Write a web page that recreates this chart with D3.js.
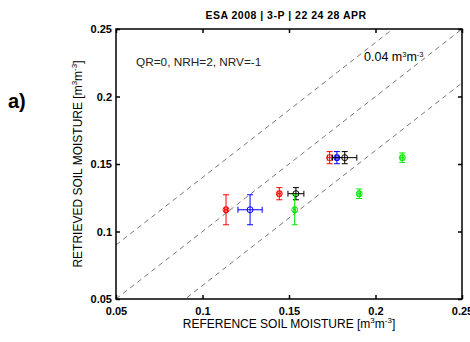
<!DOCTYPE html>
<html>
<head>
<meta charset="utf-8">
<script src="https://cdn.jsdelivr.net/npm/d3@7"></script>
<style>
  body { margin: 0; background: #fff; }
  text { font-family: "Liberation Sans", Arial, sans-serif; }
</style>
</head>
<body>
<svg id="chart" width="470" height="342"></svg>
<script>
// series: x, y, xerr, yerr
const redPts = [
  { x: 0.1136, y: 0.1161, ex: 0.0008, ey: 0.0111 },
  { x: 0.1444, y: 0.128, ex: 0.0009, ey: 0.0045 },
  { x: 0.1735, y: 0.1547, ex: 0.0012, ey: 0.0045 }
];
const bluePts = [
  { x: 0.1275, y: 0.1161, ex: 0.007, ey: 0.0111 },
  { x: 0.1777, y: 0.1547, ex: 0.0008, ey: 0.0045 }
];
const blackPts = [
  { x: 0.154, y: 0.128, ex: 0.0046, ey: 0.0045 },
  { x: 0.1822, y: 0.1547, ex: 0.007, ey: 0.0045 }
];
const greenPts = [
  { x: 0.1533, y: 0.1161, ex: 0.0006, ey: 0.0111 },
  { x: 0.1906, y: 0.128, ex: 0.0008, ey: 0.0035 },
  { x: 0.2155, y: 0.1547, ex: 0.0009, ey: 0.0035 }
];
const offsets = [0.04, 0, -0.04];
const ticks = [0.05, 0.1, 0.15, 0.2, 0.25];
const tickLabels = ["0.05", "0.1", "0.15", "0.2", "0.25"];

const svg = d3.select("#chart");
const mLeft = 116, mRight = 462, mTop = 29, mBottom = 299;

const x = d3.scaleLinear().domain([0.05, 0.25]).range([mLeft, mRight]);
const y = d3.scaleLinear().domain([0.05, 0.25]).range([mBottom, mTop]);

// dashed 1:1 and +/- 0.04 lines
svg.append("clipPath").attr("id", "clip")
  .append("rect").attr("x", mLeft).attr("y", mTop)
  .attr("width", mRight - mLeft).attr("height", mBottom - mTop);

const plot = svg.append("g").attr("clip-path", "url(#clip)");
offsets.forEach(o => {
  plot.append("line")
    .attr("x1", x(0.05)).attr("y1", y(0.05 + o))
    .attr("x2", x(0.25)).attr("y2", y(0.25 + o))
    .attr("stroke", "#555").attr("stroke-width", 0.8)
    .attr("stroke-dasharray", "5,4");
});

function drawSeries(data, color) {
  const g = plot.append("g");
  data.forEach(d => {
    const cap = 3;
    // vertical error
    g.append("line").attr("x1", x(d.x)).attr("x2", x(d.x))
      .attr("y1", y(d.y - d.ey)).attr("y2", y(d.y + d.ey))
      .attr("stroke", color).attr("stroke-width", 1);
    [d.y - d.ey, d.y + d.ey].forEach(v => {
      g.append("line").attr("x1", x(d.x) - cap).attr("x2", x(d.x) + cap)
        .attr("y1", y(v)).attr("y2", y(v))
        .attr("stroke", color).attr("stroke-width", 1);
    });
    // horizontal error
    g.append("line").attr("y1", y(d.y)).attr("y2", y(d.y))
      .attr("x1", x(d.x - d.ex)).attr("x2", x(d.x + d.ex))
      .attr("stroke", color).attr("stroke-width", 1);
    [d.x - d.ex, d.x + d.ex].forEach(v => {
      g.append("line").attr("y1", y(d.y) - cap).attr("y2", y(d.y) + cap)
        .attr("x1", x(v)).attr("x2", x(v))
        .attr("stroke", color).attr("stroke-width", 1);
    });
    g.append("circle").attr("cx", x(d.x)).attr("cy", y(d.y)).attr("r", 3)
      .attr("fill", "none").attr("stroke", color).attr("stroke-width", 1);
  });
}
drawSeries(redPts, "#ff0000");
drawSeries(bluePts, "#0000ff");
drawSeries(blackPts, "#000000");
drawSeries(greenPts, "#00e600");

// axes box with inward ticks
svg.append("rect").attr("x", mLeft).attr("y", mTop)
  .attr("width", mRight - mLeft).attr("height", mBottom - mTop)
  .attr("fill", "none").attr("stroke", "#000").attr("stroke-width", 1.5);

const fmt = (d, i) => tickLabels[i];
svg.append("g").attr("transform", `translate(0,${mBottom})`)
  .call(d3.axisBottom(x).tickValues(ticks).tickSize(-4).tickPadding(8).tickFormat(fmt));
svg.append("g").attr("transform", `translate(0,${mTop})`)
  .call(d3.axisTop(x).tickValues(ticks).tickSize(-4).tickFormat(""));
svg.append("g").attr("transform", `translate(${mLeft},0)`)
  .call(d3.axisLeft(y).tickValues(ticks).tickSize(-4).tickPadding(4).tickFormat(fmt));
svg.append("g").attr("transform", `translate(${mRight},0)`)
  .call(d3.axisRight(y).tickValues(ticks).tickSize(-4).tickFormat(""));

svg.selectAll(".domain").remove();
svg.selectAll(".tick line").attr("stroke-width", 1.5);
svg.selectAll(".tick text").attr("font-size", 11).attr("font-weight", "bold")
  .attr("font-family", "Liberation Sans, Arial, sans-serif").attr("fill", "#000");

// texts
svg.append("text").attr("x", 286).attr("y", 19).attr("text-anchor", "middle")
  .attr("font-size", 10.5).attr("font-weight", "bold").attr("letter-spacing", 0.5)
  .text("ESA 2008 | 3-P | 22 24 28 APR");

svg.append("text").attr("x", 136).attr("y", 66).attr("font-size", 11.8)
  .attr("fill", "#222").text("QR=0, NRH=2, NRV=-1");

const t04 = svg.append("text").attr("x", 364).attr("y", 61).attr("font-size", 12.5);
t04.append("tspan").text("0.04 m");
t04.append("tspan").attr("font-size", 7.5).attr("dy", -4).text("3");
t04.append("tspan").attr("dy", 4).text("m");
t04.append("tspan").attr("font-size", 7.5).attr("dy", -4).text("-3");

const xl = svg.append("text").attr("x", 289).attr("y", 328).attr("text-anchor", "middle")
  .attr("font-size", 12);
xl.append("tspan").text("REFERENCE SOIL MOISTURE [m");
xl.append("tspan").attr("font-size", 8).attr("dy", -5).text("3");
xl.append("tspan").attr("dy", 5).text("m");
xl.append("tspan").attr("font-size", 8).attr("dy", -5).text("-3");
xl.append("tspan").attr("dy", 5).text("]");

const yl = svg.append("text").attr("transform", "translate(82,164) rotate(-90)")
  .attr("text-anchor", "middle").attr("font-size", 12);
yl.append("tspan").text("RETRIEVED SOIL MOISTURE [m");
yl.append("tspan").attr("font-size", 8).attr("dy", -5).text("3");
yl.append("tspan").attr("dy", 5).text("m");
yl.append("tspan").attr("font-size", 8).attr("dy", -5).text("-3");
yl.append("tspan").attr("dy", 5).text("]");

svg.append("text").attr("x", 8).attr("y", 108).attr("font-size", 20)
  .attr("font-weight", "bold").text("a)");
</script>
</body>
</html>
